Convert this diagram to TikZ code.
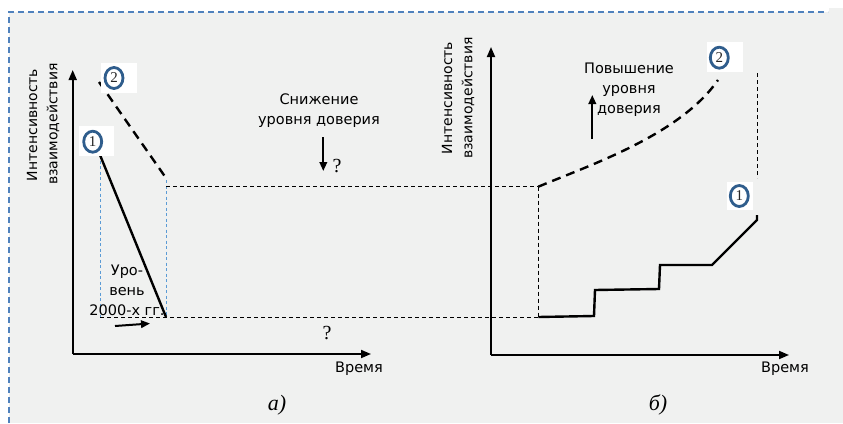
\documentclass[tikz,border=0pt]{standalone}
\usepackage{fontspec}
\setmainfont{DejaVu Sans}
\newfontfamily\serifface{Liberation Serif}
\usetikzlibrary{arrows.meta,shapes.geometric}
\definecolor{panel}{RGB}{240,241,240}
\definecolor{frameblue}{RGB}{79,129,189}
\definecolor{guideblue}{RGB}{91,155,213}
\definecolor{ringblue}{RGB}{47,93,140}
\tikzset{
  axis/.style={line width=1.8pt, -{Triangle[length=10pt,width=8pt]}},
  pointer/.style={line width=2pt, -{Triangle[length=9pt,width=7.5pt]}},
  lbl/.style={font=\fontsize{14.5}{20}\selectfont, align=center, inner sep=0pt},
  ylbl/.style={font=\fontsize{14}{16}\selectfont, rotate=90, inner sep=0pt},
  qmark/.style={font=\serifface\fontsize{20}{20}\selectfont, inner sep=0pt},
  caption/.style={font=\serifface\itshape\fontsize{22}{22}\selectfont, inner sep=0pt},
  guide/.style={guideblue, line width=1pt, dash pattern=on 3pt off 2.5pt},
  level/.style={black, line width=1pt, dash pattern=on 4pt off 3pt},
  trend/.style={line width=2.4pt, dash pattern=on 9pt off 6pt},
  solidtrend/.style={line width=2.4pt, line join=miter},
  ring/.style={ellipse, draw=ringblue, line width=2.8pt, minimum width=18pt,
    minimum height=21pt, inner sep=0pt, text=black!85,
    font=\serifface\fontsize{15}{15}\selectfont},
  paper/.style={fill=white, draw=none}
}
\begin{document}
\begin{tikzpicture}[x=1pt, y=-1pt]
\useasboundingbox (0,0) rectangle (843,423);
% panel and its dashed border
\fill[panel] (9,12) rectangle (843,423);
\fill[panel] (829,8) rectangle (843,12);
\draw[frameblue, line width=1.6pt, dash pattern=on 6pt off 4pt]
  (9,423) -- (9,12) -- (828,12);

% ---------- chart a ----------
\coordinate (aO) at (72.7,354);
\coordinate (aY) at (72.7,70);
\coordinate (aX) at (371,354);
\draw[axis] (aO) -- (aY);
\draw[axis] (aO) -- (aX);
\node[ylbl] (aYl1) at (32,125) {Интенсивность};
\node[ylbl] (aYl2) at (53,124) {взаимодействия};
\node[lbl] (aXl) at (359,369) {Время};

\coordinate (a1top) at (100,155);
\coordinate (a1bot) at (166,317);
\coordinate (a2top) at (99,82);
\coordinate (a2bot) at (166,178);
\coordinate (aHigh) at (166,186.7);
\coordinate (aLow) at (100,317);
\coordinate (aG1) at (100,317);
\coordinate (aG2t) at (166,180);

\draw[guide] (a1top) -- (aG1);
\draw[guide] (aG2t) -- (a1bot);
\draw[solidtrend] (a1top) -- (a1bot);
\draw[trend] (a2top) -- (a2bot);

\fill[paper] (79,126) rectangle (114,156);
\node[ring] (a1mark) at (92.7,141.7) {1};
\fill[paper] (101,63) rectangle (137,93);
\node[ring] (a2mark) at (114,78) {2};

\node[lbl] (aLevel) at (127,290) {Уро-\\вень\\2000-х гг.};
\coordinate (aArrS) at (115,326);
\coordinate (aArrE) at (150,323.5);
\draw[pointer] (aArrS) -- (aArrE);

\node[lbl] (down) at (319,111) {Снижение\\уровня доверия};
\coordinate (downS) at (323.3,137);
\coordinate (downE) at (323.3,171);
\draw[pointer] (downS) -- (downE);
\node[qmark] (q1) at (337,166) {?};
\node[qmark] (q2) at (327,333) {?};
\node[caption] (capA) at (277,405) {а)};

% ---------- chart b ----------
\coordinate (bO) at (491,355);
\coordinate (bY) at (491,47);
\coordinate (bX) at (789,355);
\draw[axis] (bO) -- (bY);
\draw[axis] (bO) -- (bX);
\node[ylbl] (bYl1) at (447,98) {Интенсивность};
\node[ylbl] (bYl2) at (468,98) {взаимодействия};
\node[lbl] (bXl) at (785,369) {Время};

\coordinate (bHigh) at (538.3,186.7);
\coordinate (bLow) at (538.3,317);
\coordinate (b2end) at (718,80);
\coordinate (bEdgeT) at (757,73);
\coordinate (bEdgeB) at (757,178);

% shared levels joining both charts
\draw[level] (aHigh) -- (bHigh);
\draw[level] (aLow) -- (bLow);
\draw[level] (bHigh) -- (bLow);
\draw[level] (bEdgeT) -- (bEdgeB);

\draw[trend] (bHigh) .. controls (590,165) and (680,135) .. (b2end);
\draw[solidtrend] (bLow) -- (594,316) -- (595,290) -- (659,289) -- (660,265)
  -- (712,265) -- (757,220) -- (757,215);

\fill[paper] (707,42) rectangle (743,72);
\node[ring] (b2mark) at (719.3,57.7) {2};
\fill[paper] (727,182) rectangle (753,210);
\node[ring] (b1mark) at (739.3,196) {1};

\node[lbl] (up) at (629,89.5) {Повышение\\уровня\\доверия};
\coordinate (upS) at (592.3,139);
\coordinate (upE) at (592.3,95);
\draw[pointer] (upS) -- (upE);
\node[caption] (capB) at (658,405) {б)};
\end{tikzpicture}
\end{document}
